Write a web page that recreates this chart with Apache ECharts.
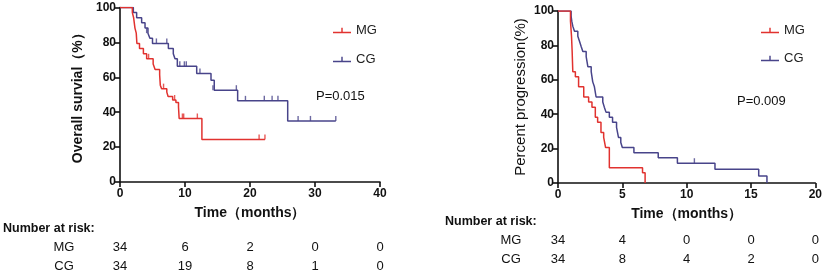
<!DOCTYPE html>
<html>
<head>
<meta charset="utf-8">
<title>KM curves</title>
<script src="https://cdn.jsdelivr.net/npm/echarts@6/dist/echarts.min.js"></script>
<style>
html,body{margin:0;padding:0;background:#fff;}
#main{width:825px;height:274px;}
</style>
</head>
<body>
<div id="main"></div>
<script>
// 左图：总生存 (Overall survival)
var osMG = [[0,100],[1.9,97.1],[2.1,94.1],[2.3,88.2],[2.5,85.3],[2.6,79.4],[3.0,76.5],[3.6,73.5],[4.1,70.6],[5.1,67.6],[5.4,64.5],[6.1,61.5],[6.2,55.5],[6.4,53.5],[7.2,51.5],[7.4,49],[8.1,47],[8.6,45.5],[9.0,43],[9.1,36.4],[12.6,24.4],[22.3,24.4]];
var osCG = [[0,100],[2.05,97.1],[2.56,94.1],[3.33,91.2],[3.85,88.2],[4.3,85.3],[4.6,82.4],[5.0,79.4],[7.44,76.5],[8.2,73.5],[8.46,70.6],[8.82,66.3],[11.8,62.2],[14.0,58.3],[14.5,52.6],[18.1,46.5],[25.8,35],[33.2,35]];
var osMGCens = [[4.4,70.6],[6.7,53.5],[8.4,47],[9.6,36.4],[9.8,36.4],[11.9,36.4],[21.4,24.4],[22.3,24.4]];
var osCGCens = [[4.1,85.3],[5.6,79.4],[7.2,79.4],[9.2,66.3],[9.9,66.3],[10.2,66.3],[12.3,62.2],[14.3,52.6],[17.9,52.6],[19.3,46.5],[22.2,46.5],[23.4,46.5],[24.3,46.5],[27.4,35],[29.3,35],[33.2,35]];
// 右图：进展 (Percent progression)
var ppMG = [[0,100],[0.97,94.1],[1.05,85.3],[1.1,76.5],[1.15,64.7],[1.35,61.8],[1.6,55.9],[2.0,50],[2.38,47.1],[2.64,44.1],[2.9,38.2],[3.08,35.3],[3.34,29.4],[3.55,26.5],[3.7,20.6],[3.99,8.8],[6.57,5.9],[6.77,0]];
var ppCG = [[0,100],[1.02,97.1],[1.07,94.1],[1.15,91.2],[1.28,88.2],[1.54,85.3],[1.67,82.4],[1.8,79.4],[1.93,76.5],[2.19,73.5],[2.32,67.6],[2.58,64.7],[2.7,58.8],[2.83,55.9],[2.96,50],[3.48,47.1],[3.6,44.1],[3.73,41.2],[3.99,38.2],[4.24,35.3],[4.55,32.4],[4.7,26.5],[4.88,23.5],[5.0,20.6],[5.9,17.6],[7.79,14.7],[9.28,11.5],[12.2,8],[15.6,4],[16.24,0]];
var ppCGCens = [[10.6,11.5]];
// 风险人数表
var osTicks = [0,10,20,30,40];
var osRiskMG = [34,6,2,0,0];
var osRiskCG = [34,19,8,1,0];
var ppTicks = [0,5,10,15,20];
var ppRiskMG = [34,4,0,0,0];
var ppRiskCG = [34,8,4,2,0];

var red = '#e1322f';
var blue = '#48448a';
var fontF = 'Liberation Sans, Arial, sans-serif';
var legendIcon = 'path://M0,6 L20,6 L20,7.6 L0,7.6 Z M9.2,1.5 L10.8,1.5 L10.8,6 L9.2,6 Z';
var censSym = 'path://M0,0 L1,0 L1,10 L0,10 Z';

var myChart = echarts.init(document.getElementById('main'));

function xAx(idx, max, interval){
	return {
		type:'value', gridIndex:idx, min:0, max:max, interval:interval,
		name:'Time（months）', nameLocation:'middle', nameGap:24,
		nameTextStyle:{fontFamily:fontF,fontSize:14,fontWeight:'bold',color:'#111'},
		axisLine:{show:true,lineStyle:{color:'#111',width:1.6}},
		axisTick:{show:true,length:5,lineStyle:{color:'#111',width:1.6}},
		axisLabel:{fontFamily:fontF,fontSize:12,fontWeight:'bold',color:'#111',margin:6},
		splitLine:{show:false}
	};
}
function yAx(idx, name, gap, bold, size){
	return {
		type:'value', gridIndex:idx, min:0, max:100, interval:20,
		name:name, nameLocation:'middle', nameGap:gap, nameRotate:90,
		nameTextStyle:{fontFamily:fontF,fontSize:size,fontWeight:bold?'bold':'normal',color:'#111'},
		axisLine:{show:true,lineStyle:{color:'#111',width:1.6}},
		axisTick:{show:true,length:5,lineStyle:{color:'#111',width:1.6}},
		axisLabel:{fontFamily:fontF,fontSize:12,fontWeight:'bold',color:'#111',margin:4},
		splitLine:{show:false}
	};
}
function stepLine(name, data, color, idx){
	return {name:name,type:'line',step:'end',data:data,xAxisIndex:idx,yAxisIndex:idx,
		symbol:'none',lineStyle:{color:color,width:1.5},itemStyle:{color:color},z:name=='MG'?3:2};
}
function cens(name, data, color, idx){
	return {name:name,type:'scatter',data:data,xAxisIndex:idx,yAxisIndex:idx,
		symbol:censSym,symbolSize:[1.4,5],symbolOffset:[0,-2.5],itemStyle:{color:color},z:4};
}

var option = {
	animation:false,
	grid:[
		{left:120,right:445,top:7.5,bottom:92},
		{left:558,right:8,top:11,bottom:91}
	],
	xAxis:[xAx(0,40,10), xAx(1,20,5)],
	yAxis:[yAx(0,'Overall survial（%）',35,true,14), yAx(1,'Percent progression(%)',30,false,15)],
	legend:[
		{data:[{name:'MG',icon:legendIcon},{name:'CG',icon:legendIcon}],orient:'vertical',left:328,top:19,itemWidth:18,itemHeight:8,itemGap:16,
			textStyle:{fontFamily:fontF,fontSize:13,color:'#222'}},
		{data:[{name:'MG',icon:legendIcon},{name:'CG',icon:legendIcon}],orient:'vertical',left:756,top:19,itemWidth:18,itemHeight:8,itemGap:15,
			textStyle:{fontFamily:fontF,fontSize:13,color:'#222'}}
	],
	series:[
		stepLine('CG',osCG,blue,0),
		stepLine('MG',osMG,red,0),
		cens('CG',osCGCens,blue,0),
		cens('MG',osMGCens,red,0),
		stepLine('CG',ppCG,blue,1),
		stepLine('MG',ppMG,red,1),
		cens('CG',ppCGCens,blue,1)
	]
};
myChart.setOption(option);

// 文字：P 值与风险人数表
var g = [];
function txt(x,y,s,bold,align){
	g.push({type:'text',x:x,y:y,style:{text:s,fontFamily:fontF,fontSize:bold?12.5:13,fontWeight:bold?'bold':'normal',fill:'#111',align:align||'center',verticalAlign:'middle'}});
}
txt(316,96,'P=0.015',false,'left');
txt(737,101,'P=0.009',false,'left');

function riskTable(idx, ticks, mg, cg, headY, x0, lblX){
	txt(x0,headY,'Number at risk:',true,'left');
	txt(lblX,headY+18,'MG',false);
	txt(lblX,headY+37,'CG',false);
	for(var i=0;i<ticks.length;i++){
		var px = myChart.convertToPixel({xAxisIndex:idx},ticks[i]);
		txt(px,headY+18,String(mg[i]),false);
		txt(px,headY+37,String(cg[i]),false);
	}
}
riskTable(0,osTicks,osRiskMG,osRiskCG,229,3,64);
riskTable(1,ppTicks,ppRiskMG,ppRiskCG,222,445,511);
myChart.setOption({graphic:g});
</script>
</body>
</html>
